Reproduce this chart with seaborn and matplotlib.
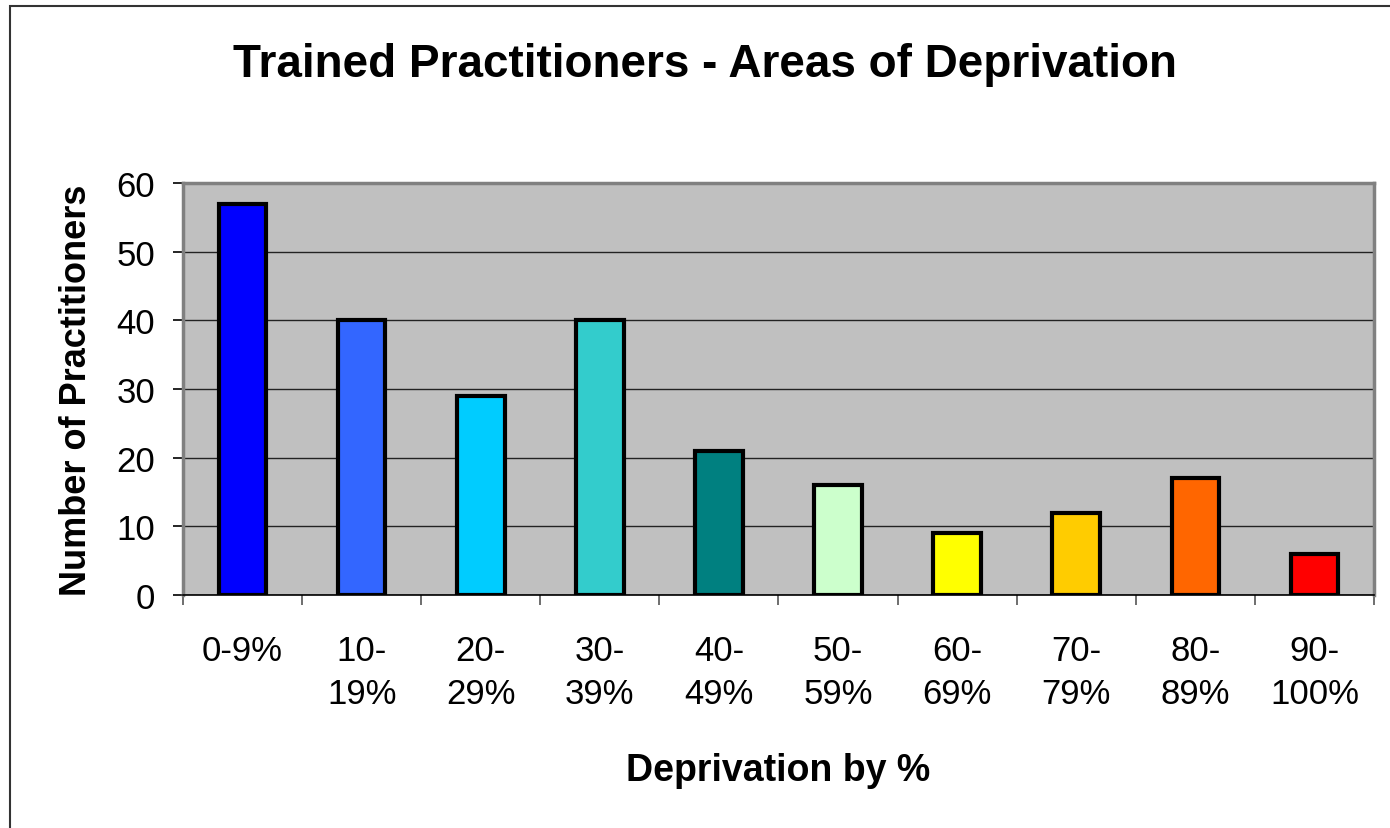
import numpy as np
import pandas as pd
import seaborn as sns
import matplotlib.pyplot as plt
from matplotlib.patches import Rectangle

# data
bands = ["0-9%", "10-\n19%", "20-\n29%", "30-\n39%", "40-\n49%",
         "50-\n59%", "60-\n69%", "70-\n79%", "80-\n89%", "90-\n100%"]
practitioners = [57, 40, 29, 40, 21, 16, 9, 12, 17, 6]
bar_colours = ["#0000FF", "#3366FF", "#00CCFF", "#33CCCC", "#008080",
               "#CCFFCC", "#FFFF00", "#FFCC00", "#FF6600", "#FF0000"]

df = pd.DataFrame({"band": bands, "count": practitioners})

sns.set_style("white")
plt.rcParams['font.family'] = ['Liberation Sans', 'DejaVu Sans']
plt.rcParams['text.color'] = 'black'
plt.rcParams['axes.labelcolor'] = 'black'
plt.rcParams['xtick.color'] = 'black'
plt.rcParams['ytick.color'] = 'black'

fig = plt.figure(figsize=(13.9, 8.29), dpi=100)
ax = fig.add_axes([183 / 1390, 1 - 596 / 829, (1374 - 183) / 1390, (596 - 184) / 829])

sns.barplot(data=df, x="band", y="count", hue="band", palette=bar_colours,
            legend=False, width=0.4, edgecolor="black", linewidth=3,
            saturation=1, ax=ax)

ax.set_facecolor("#C0C0C0")
ax.set_ylim(0, 60)
ax.set_xlim(-0.5, len(bands) - 0.5)
ax.set_yticks(range(0, 61, 10))
ax.yaxis.grid(True, color="#222222", linewidth=1)
ax.set_axisbelow(True)

# ticks: y outward on left, x ticks at category boundaries
ax.tick_params(axis="y", which="major", left=True, length=7, width=1.2,
               color="black", pad=13, labelsize=25)
ax.tick_params(axis="x", which="major", bottom=False, length=0, pad=28, labelsize=25)
ax.set_xticks(np.arange(-0.5, len(bands), 1), minor=True)
ax.tick_params(axis="x", which="minor", bottom=True, length=7, width=1.2, color="#555555")
for lbl in ax.get_xticklabels():
    lbl.set_linespacing(1.4)

for side in ["top", "right", "left"]:
    ax.spines[side].set_color("#808080")
    ax.spines[side].set_linewidth(2.5)
ax.spines["bottom"].set_color("black")
ax.spines["bottom"].set_linewidth(1.2)

ax.set_xlabel("Deprivation by %", fontsize=27, fontweight="bold", labelpad=30)
ax.set_ylabel("Number of Practitioners", fontsize=26, fontweight="bold", labelpad=16)
fig.text(705 / 1390, 1 - 65 / 829, "Trained Practitioners - Areas of Deprivation",
         ha="center", va="center", fontsize=33, fontweight="bold")

# outer chart frame
fig.patches.append(Rectangle((10 / 1390, -0.1), 1.2, 1 - 7 / 829 + 0.1,
                             transform=fig.transFigure, fill=False,
                             edgecolor="#333333", linewidth=1.5))

fig.savefig("out.png", dpi=100)
